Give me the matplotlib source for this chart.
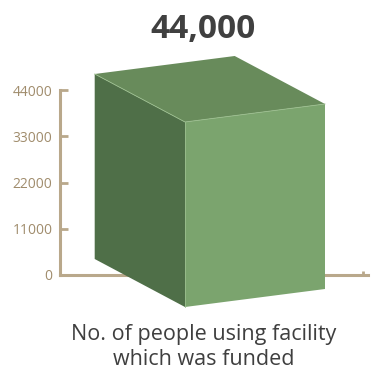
import matplotlib.pyplot as plt
from matplotlib.patches import Polygon

# Datos
categoria = 'No. of people using facility\nwhich was funded'
valor = 44000
ticks_y = [0, 11000, 22000, 33000, 44000]
etiquetas_y = ['0', '11000', '22000', '33000', '44000']

plt.rcParams['font.family'] = ['Open Sans', 'DejaVu Sans']

W, H = 374, 383
fig = plt.figure(figsize=(W / 100, H / 100), dpi=100)
fig.patch.set_facecolor('white')

# Ejes en píxeles: eje y de 0 a 44000 entre y=275 y y=90
x0, y0, x1, y1 = 60, 275, 368, 90
ax = fig.add_axes([x0 / W, 1 - y0 / H, (x1 - x0) / W, (y0 - y1) / H])
ax.set_xlim(0, x1 - x0)
ax.set_ylim(0, 44000)
escala = 44000 / (y0 - y1)  # unidades de datos por píxel


def pt(px, py):
    return (px - x0, (y0 - py) * escala)


# Cubo en perspectiva: base fija, altura tomada del valor
base = {'E': (94.7, 259), 'F': (185, 307), 'G': (325, 289)}
alto = valor
E = pt(*base['E'])
F = pt(*base['F'])
G = pt(*base['G'])
A = (E[0], E[1] + alto)
D = (F[0], F[1] + alto)
C = (G[0], G[1] + alto)
B = (C[0] - (D[0] - A[0]), C[1] + (A[1] - D[1]))

ax.add_patch(Polygon([A, D, F, E], closed=True, facecolor='#4f6f48',
                     edgecolor='none', clip_on=False, zorder=3))
ax.add_patch(Polygon([D, C, G, F], closed=True, facecolor='#7ba46e',
                     edgecolor='none', clip_on=False, zorder=3))
ax.add_patch(Polygon([A, B, C, D], closed=True, facecolor='#688b5b',
                     edgecolor='none', clip_on=False, zorder=3))
# bordes claros entre caras
ax.plot([A[0], D[0], C[0]], [A[1], D[1], C[1]], color='#9cbf8f', lw=0.6,
        clip_on=False, zorder=4)
ax.plot([D[0], F[0]], [D[1], F[1]], color='#9cbf8f', lw=0.6,
        clip_on=False, zorder=4)

# Estilo de ejes
color_eje = '#b9a88b'
for lado in ['top', 'right']:
    ax.spines[lado].set_visible(False)
for lado in ['left', 'bottom']:
    ax.spines[lado].set_color(color_eje)
    ax.spines[lado].set_linewidth(2.2)
ax.set_facecolor('none')
ax.set_yticks(ticks_y)
ax.set_yticklabels(etiquetas_y)
ax.tick_params(axis='y', direction='in', length=6, width=2, color=color_eje,
               labelcolor='#a08c6c', labelsize=10, pad=5.5)
ax.set_xticks([303])
ax.set_xticklabels([''])
ax.tick_params(axis='x', direction='in', length=3, width=2, color=color_eje)

# Textos
fig.text(203 / W, 1 - 30 / H, f'{valor:,}', ha='center', va='center',
         fontsize=24, fontweight='bold', color='#404040')
fig.text(204 / W, 1 - 347 / H, categoria, ha='center', va='center',
         fontsize=15.5, color='#3f3f3f', linespacing=1.3)

fig.savefig('out.png', dpi=100)
